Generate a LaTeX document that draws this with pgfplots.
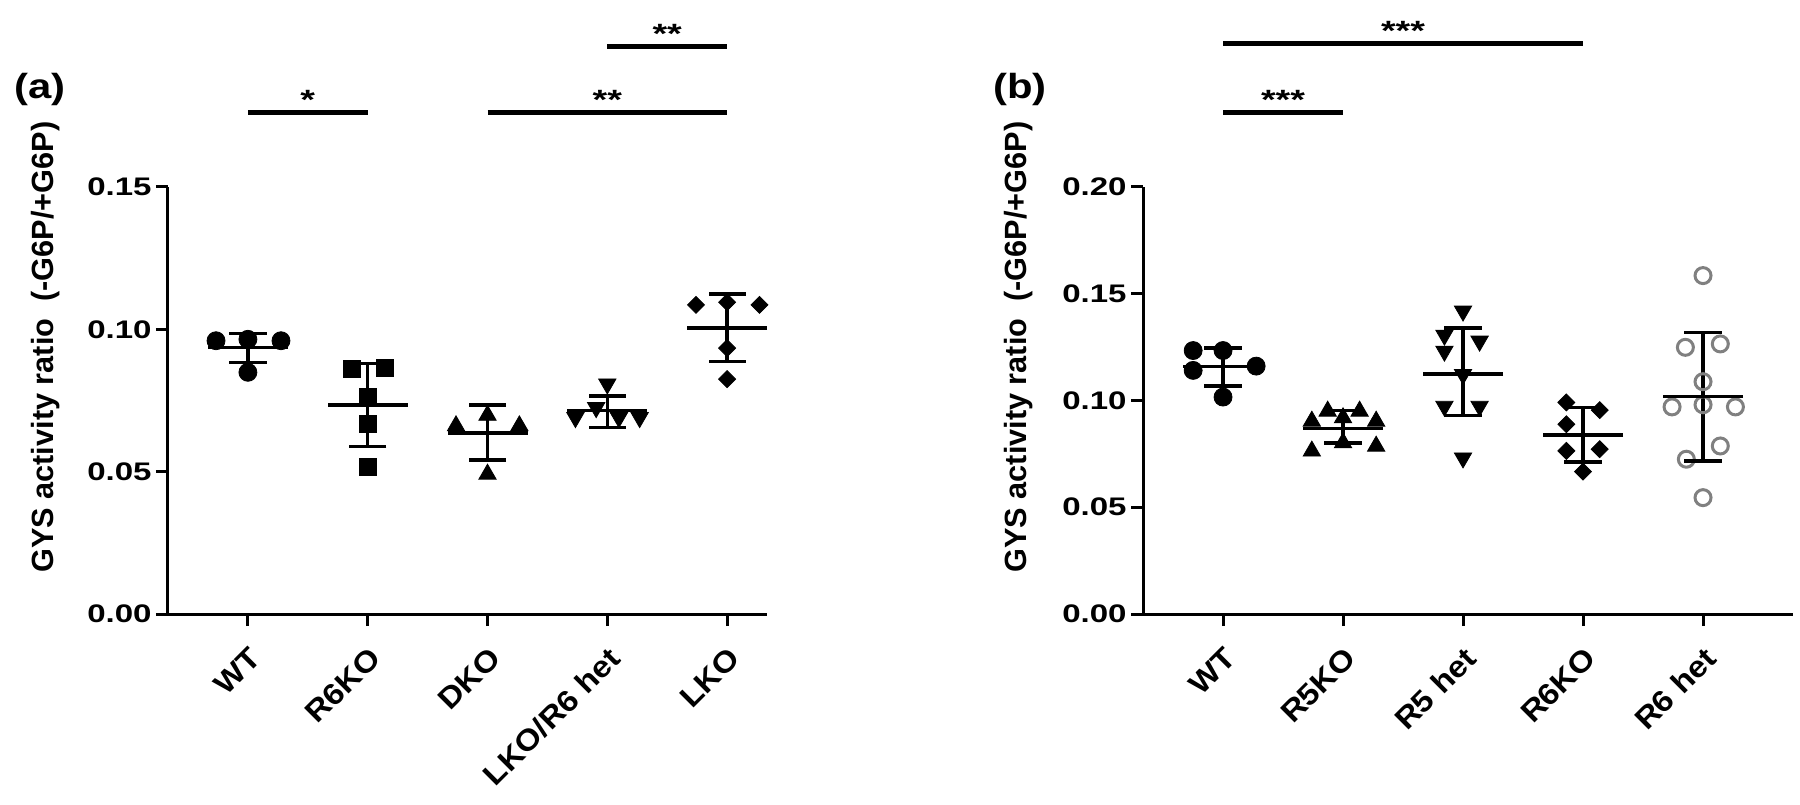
\documentclass[border=0pt]{standalone}
\usepackage{pgfplots}
\pgfplotsset{compat=1.18}
\usepackage{pgfplotstable}
\usepackage{fontspec}
\setmainfont{Liberation Sans}

% mean / SD tables: x mean hi lo
\pgfplotstableread{
x m hi lo
1 0.0937 0.0986 0.0884
2 0.0734 0.0880 0.0588
3 0.0636 0.0734 0.0541
4 0.0714 0.0766 0.0655
5 0.1004 0.1124 0.0887
}\statA
\pgfplotstableread{
x m hi lo
1 0.1159 0.1247 0.1067
2 0.0870 0.0953 0.0802
3 0.1125 0.1340 0.0930
4 0.0839 0.0968 0.0713
5 0.1019 0.1319 0.0717
}\statB

\tikzset{stars/.style={anchor=base, yshift=1.5bp, xscale=1.35, font=\bfseries\fontsize{14}{15}\selectfont}}

\begin{document}
\begin{tikzpicture}[font=\bfseries]
\useasboundingbox (0,0) rectangle (900bp,402.5bp);
\pgfplotsset{
  myax/.style={
    scale only axis, height=213.5bp, ymin=0, xmin=0.333,
    axis x line=bottom, axis y line=left,
    axis line style={-, line width=1.5bp},
    tick style={line width=1.5bp, black},
    major tick length=6bp, tick align=outside,
    xtick={1,2,3,4,5},
    clip=false,
    yticklabel style={/pgf/number format/fixed, /pgf/number format/fixed zerofill, /pgf/number format/precision=2, /pgf/number format/assume math mode=true, xscale=1.3, font=\bfseries\fontsize{12.75}{14}\selectfont, inner sep=1.5bp},
    xticklabel style={rotate=45, xscale=1.1, anchor=north east, inner sep=1bp, font=\bfseries\fontsize{15}{17}\selectfont},
    xticklabel shift=8bp,
    ylabel={GYS activity ratio\ \ (-G6P/+G6P)},
    ylabel style={font=\bfseries\fontsize{15.4}{18}\selectfont, anchor=center},
  },
  meanline/.style={only marks, mark=-, mark size=20bp, mark options={line width=1.75bp, black}},
  capline/.style={only marks, mark=-, mark size=9.3bp, mark options={line width=1.75bp, black}},
  sdline/.style={black, line width=1.75bp, no marks, unbounded coords=jump},
  pts/.style={only marks, black, mark size=#1},
}

% ---------------- Panel (a) ----------------
\begin{axis}[myax, at={(84bp,95.5bp)}, anchor=south west,
  width=299.5bp, xmax=5.333, ymax=0.15,
  ytick={0,0.05,0.10,0.15},
  xticklabels={WT,R6KO,DKO,LKO/R6 het,LKO},
  ylabel style={at={(axis description cs:-0.204,0.625)}},
]
\addplot[pts=4.5bp, mark=*] coordinates {(0.734,0.0960) (1.0,0.0965) (1.276,0.0960) (1.0,0.0849)};
\addplot[pts=4.25bp, mark=square*] coordinates {(1.869,0.0860) (2.145,0.0863) (2.0,0.0761) (2.0,0.0667) (2.0,0.0516)};
\addplot[pts=5bp, mark=triangle*] coordinates {(3.0,0.0698) (2.737,0.0661) (3.266,0.0661) (3.0,0.0491)};
\addplot[pts=5bp, mark=triangle*, mark options={rotate=180}] coordinates {(4.0,0.0808) (3.907,0.0725) (3.734,0.0690) (4.097,0.0690) (4.27,0.0690)};
\addplot[pts=3bp, mark=square*, mark options={rotate=45}] coordinates {(4.74,0.1086) (5.0,0.1095) (5.27,0.1086) (5.0,0.0934) (5.0,0.0825)};
\addplot[sdline] coordinates {(1,0.0884) (1,0.0986) (1,nan) (2,0.0588) (2,0.0880) (2,nan) (3,0.0541) (3,0.0734) (3,nan) (4,0.0655) (4,0.0766) (4,nan) (5,0.0887) (5,0.1124)};
\addplot[meanline] table[x=x, y=m] {\statA};
\addplot[capline] table[x=x, y=hi] {\statA};
\addplot[capline] table[x=x, y=lo] {\statA};
% significance
\draw[line width=2.5bp] (axis cs:1,0.176) -- (axis cs:2,0.176);
\node[stars] at (axis cs:1.5,0.176) {*};
\draw[line width=2.5bp] (axis cs:3,0.176) -- (axis cs:5,0.176);
\node[stars] at (axis cs:4,0.176) {**};
\draw[line width=2.5bp] (axis cs:4,0.1995) -- (axis cs:5,0.1995);
\node[stars] at (axis cs:4.5,0.1995) {**};
\end{axis}

% ---------------- Panel (b) ----------------
\begin{axis}[myax, at={(571.5bp,95.5bp)}, anchor=south west,
  width=325bp, xmax=5.75, ymax=0.20,
  ytick={0,0.05,0.10,0.15,0.20},
  xticklabels={WT,R5KO,R5 het,R6KO,R6 het},
  ylabel style={at={(axis description cs:-0.192,0.625)}},
]
\addplot[pts=4.5bp, mark=*] coordinates {(0.751,0.1234) (1.0,0.1234) (0.751,0.1141) (1.276,0.1161) (1.0,0.1016)};
\addplot[pts=5bp, mark=triangle*] coordinates {(1.872,0.0950) (2.138,0.0950) (1.74,0.0903) (2.0,0.0919) (2.276,0.0903) (1.74,0.0763) (2.0,0.0802) (2.276,0.0786)};
\addplot[pts=5bp, mark=triangle*, mark options={rotate=180}] coordinates {(3.0,0.1419) (2.845,0.1306) (3.138,0.1278) (2.845,0.1231) (3.0,0.1122) (2.845,0.0973) (3.138,0.0973) (3.0,0.0731)};
\addplot[pts=3bp, mark=square*, mark options={rotate=45}] coordinates {(3.861,0.0991) (4.139,0.0955) (3.861,0.0889) (3.861,0.0764) (4.139,0.0772) (4.0,0.0667)};
\addplot[only marks, mark=o, mark size=4bp, mark options={draw=black!50, line width=1.5bp}] coordinates {(5.0,0.1585) (4.853,0.1249) (5.144,0.1265) (5.0,0.1088) (4.742,0.0970) (5.0,0.0980) (5.27,0.0970) (5.144,0.0787) (4.861,0.0725) (5.0,0.0545)};
\addplot[sdline] coordinates {(1,0.1067) (1,0.1247) (1,nan) (2,0.0802) (2,0.0953) (2,nan) (3,0.0930) (3,0.1340) (3,nan) (4,0.0713) (4,0.0968) (4,nan) (5,0.0717) (5,0.1319)};
\addplot[meanline] table[x=x, y=m] {\statB};
\addplot[capline] table[x=x, y=hi] {\statB};
\addplot[capline] table[x=x, y=lo] {\statB};
% significance
\draw[line width=2.5bp] (axis cs:1,0.2351) -- (axis cs:2,0.2351);
\node[stars] at (axis cs:1.5,0.2351) {***};
\draw[line width=2.5bp] (axis cs:1,0.267) -- (axis cs:4,0.267);
\node[stars] at (axis cs:2.5,0.267) {***};
\end{axis}

\node[xscale=1.2, font=\bfseries\fontsize{17.5}{20}\selectfont] at (20bp,358bp) {(a)};
\node[xscale=1.2, font=\bfseries\fontsize{17.5}{20}\selectfont] at (510bp,358bp) {(b)};
\end{tikzpicture}
\end{document}
